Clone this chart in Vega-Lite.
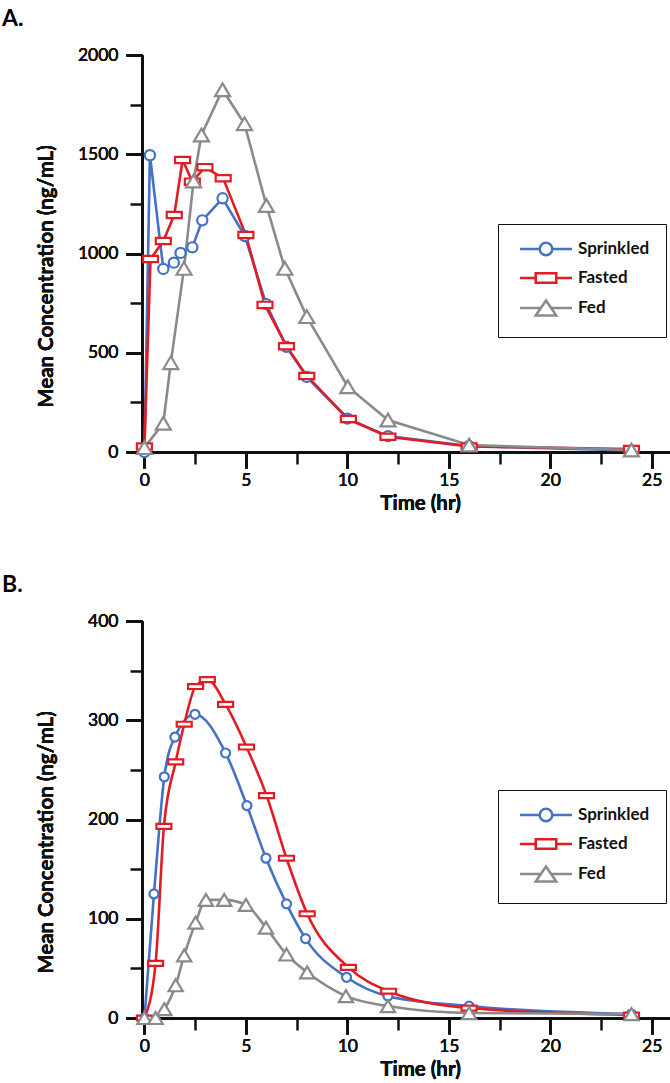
{
  "$schema": "https://vega.github.io/schema/vega-lite/v6.json",
  "padding": {"left": 2, "top": 8, "right": 0, "bottom": 0},
  "background": "white",
  "config": {
    "view": {"stroke": null},
    "font": "Lato",
    "axis": {
      "grid": false,
      "domainColor": "#111111",
      "tickColor": "#111111",
      "domainWidth": 2.5,
      "tickWidth": 2.5,
      "labelColor": "#111111",
      "titleColor": "#111111",
      "labelFont": "Lato",
      "titleFont": "Lato",
      "labelFontSize": 17.5,
      "titleFontSize": 20.5,
      "titleFontWeight": "bold"
    },
    "title": {"font": "Lato", "fontSize": 23, "fontWeight": "bold", "color": "#000000", "anchor": "start", "frame": "group", "baseline": "alphabetic", "offset": 15, "dx": -140}
  },
  "datasets": {
    "a": [
      {"s": "Sprinkled", "t": 0, "v": 0},
      {"s": "Sprinkled", "t": 0.27, "v": 1495},
      {"s": "Sprinkled", "t": 0.93, "v": 922},
      {"s": "Sprinkled", "t": 1.45, "v": 954},
      {"s": "Sprinkled", "t": 1.78, "v": 1003},
      {"s": "Sprinkled", "t": 2.36, "v": 1031},
      {"s": "Sprinkled", "t": 2.85, "v": 1167},
      {"s": "Sprinkled", "t": 3.85, "v": 1278},
      {"s": "Sprinkled", "t": 4.95, "v": 1088},
      {"s": "Sprinkled", "t": 6, "v": 745},
      {"s": "Sprinkled", "t": 7, "v": 530},
      {"s": "Sprinkled", "t": 8, "v": 378},
      {"s": "Sprinkled", "t": 10, "v": 168},
      {"s": "Sprinkled", "t": 12, "v": 80},
      {"s": "Sprinkled", "t": 16, "v": 30},
      {"s": "Sprinkled", "t": 24, "v": 8},
      {"s": "Fasted", "t": 0, "v": 28},
      {"s": "Fasted", "t": 0.3, "v": 972},
      {"s": "Fasted", "t": 0.93, "v": 1063},
      {"s": "Fasted", "t": 1.47, "v": 1194},
      {"s": "Fasted", "t": 1.88, "v": 1471},
      {"s": "Fasted", "t": 2.36, "v": 1362},
      {"s": "Fasted", "t": 2.98, "v": 1435},
      {"s": "Fasted", "t": 3.88, "v": 1379},
      {"s": "Fasted", "t": 5, "v": 1093},
      {"s": "Fasted", "t": 5.94, "v": 741},
      {"s": "Fasted", "t": 7, "v": 533},
      {"s": "Fasted", "t": 8, "v": 383},
      {"s": "Fasted", "t": 10.05, "v": 166},
      {"s": "Fasted", "t": 12, "v": 77},
      {"s": "Fasted", "t": 16, "v": 28},
      {"s": "Fasted", "t": 24, "v": 15},
      {"s": "Fed", "t": 0, "v": 22},
      {"s": "Fed", "t": 0.93, "v": 145},
      {"s": "Fed", "t": 1.3, "v": 450},
      {"s": "Fed", "t": 1.95, "v": 925},
      {"s": "Fed", "t": 2.42, "v": 1365},
      {"s": "Fed", "t": 2.81, "v": 1597},
      {"s": "Fed", "t": 3.85, "v": 1825},
      {"s": "Fed", "t": 4.93, "v": 1654},
      {"s": "Fed", "t": 6.01, "v": 1242},
      {"s": "Fed", "t": 6.92, "v": 925},
      {"s": "Fed", "t": 8, "v": 682},
      {"s": "Fed", "t": 10.02, "v": 329},
      {"s": "Fed", "t": 12, "v": 161},
      {"s": "Fed", "t": 16, "v": 35},
      {"s": "Fed", "t": 24, "v": 10}
    ],
    "b": [
      {"s": "Sprinkled", "t": 0, "v": 0},
      {"s": "Sprinkled", "t": 0.47, "v": 125},
      {"s": "Sprinkled", "t": 0.98, "v": 243},
      {"s": "Sprinkled", "t": 1.5, "v": 283},
      {"s": "Sprinkled", "t": 2.49, "v": 306},
      {"s": "Sprinkled", "t": 4, "v": 267},
      {"s": "Sprinkled", "t": 5.05, "v": 214},
      {"s": "Sprinkled", "t": 5.99, "v": 161},
      {"s": "Sprinkled", "t": 7, "v": 115},
      {"s": "Sprinkled", "t": 7.94, "v": 80},
      {"s": "Sprinkled", "t": 9.96, "v": 41},
      {"s": "Sprinkled", "t": 12, "v": 22},
      {"s": "Sprinkled", "t": 16, "v": 12},
      {"s": "Sprinkled", "t": 24, "v": 4},
      {"s": "Fasted", "t": 0, "v": 0},
      {"s": "Fasted", "t": 0.55, "v": 55},
      {"s": "Fasted", "t": 0.96, "v": 193},
      {"s": "Fasted", "t": 1.54, "v": 258},
      {"s": "Fasted", "t": 1.96, "v": 296},
      {"s": "Fasted", "t": 2.52, "v": 334},
      {"s": "Fasted", "t": 3.1, "v": 341},
      {"s": "Fasted", "t": 4, "v": 316},
      {"s": "Fasted", "t": 5.03, "v": 273},
      {"s": "Fasted", "t": 6.02, "v": 224},
      {"s": "Fasted", "t": 7, "v": 161},
      {"s": "Fasted", "t": 8.02, "v": 105},
      {"s": "Fasted", "t": 10.05, "v": 51},
      {"s": "Fasted", "t": 12.03, "v": 27},
      {"s": "Fasted", "t": 16, "v": 10},
      {"s": "Fasted", "t": 24, "v": 3},
      {"s": "Fed", "t": 0, "v": 0},
      {"s": "Fed", "t": 0.55, "v": 0},
      {"s": "Fed", "t": 0.98, "v": 9},
      {"s": "Fed", "t": 1.54, "v": 33},
      {"s": "Fed", "t": 1.96, "v": 63},
      {"s": "Fed", "t": 2.52, "v": 96},
      {"s": "Fed", "t": 3.03, "v": 119},
      {"s": "Fed", "t": 3.93, "v": 119},
      {"s": "Fed", "t": 5, "v": 114},
      {"s": "Fed", "t": 5.99, "v": 91},
      {"s": "Fed", "t": 7, "v": 64},
      {"s": "Fed", "t": 8.02, "v": 46},
      {"s": "Fed", "t": 9.93, "v": 22},
      {"s": "Fed", "t": 12, "v": 12},
      {"s": "Fed", "t": 16, "v": 5},
      {"s": "Fed", "t": 24, "v": 4}
    ]
  },
  "spacing": 60,
  "resolve": {
    "scale": {"x": "independent", "y": "independent", "color": "independent", "shape": "independent"},
    "axis": {"x": "independent", "y": "independent"},
    "legend": {"color": "independent", "shape": "independent"}
  },
  "vconcat": [
    {
      "title": {"text": "A."},
      "width": 528,
      "height": 397,
      "data": {"name": "a"},
      "encoding": {
        "x": {"field": "t", "type": "quantitative", "scale": {"domain": [-0.12, 25.9], "nice": false, "zero": false},
          "axis": {"orient": "bottom", "values": [0, 5, 10, 15, 20, 25], "tickSize": 16, "labelPadding": 3, "title": "Time (hr)", "titleX": 278, "titleY": 51, "titleBaseline": "middle", "titleAlign": "center"}},
        "y": {"field": "v", "type": "quantitative", "scale": {"domain": [0, 2000], "nice": false},
          "axis": {"orient": "left", "values": [0, 500, 1000, 1500, 2000], "format": "d", "tickSize": 16, "labelPadding": 8, "title": "Mean Concentration (ng/mL)", "titleX": -96, "titleY": 221, "titleAngle": -90, "titleBaseline": "middle", "titleAlign": "center"}},
        "color": {"field": "s", "type": "nominal", "scale": {"domain": ["Sprinkled", "Fasted", "Fed"], "range": ["#4472c4", "#e31b23", "#8a8a8a"]},
          "legend": {
            "title": null, "orient": "none", "legendX": 356, "legendY": 169,
            "strokeColor": "#111111", "padding": 16, "rowPadding": 7,
            "symbolSize": 225, "symbolStrokeWidth": 2.5, "symbolFillColor": "white", "symbolOpacity": 1, "symbolOffset": 23,
            "labelOffset": 23, "labelFont": "Lato", "labelFontSize": 17, "labelFontWeight": "bold", "labelColor": "#111111"
          }}
      },
      "layer": [
        {"mark": {"type": "line", "strokeWidth": 2.6}},
        {
          "transform": [{"filter": "datum.s === 'Sprinkled'"}],
          "mark": {"type": "point", "shape": "M0.68,0A0.68,0.68 0 1,1 -0.68,0A0.68,0.68 0 1,1 0.68,0Z", "filled": false, "fill": "white", "fillOpacity": 1, "opacity": 1, "strokeWidth": 2.2, "size": 225},
          "encoding": {
            "x": {"field": "t", "type": "quantitative", "scale": {"domain": [-0.12, 25.9], "nice": false, "zero": false},
              "axis": {"orient": "bottom", "values": [2.5, 7.5, 12.5, 17.5, 22.5], "tickSize": 12, "labels": false, "domain": false, "title": null}},
            "y": {"field": "v", "type": "quantitative", "scale": {"domain": [0, 2000], "nice": false},
              "axis": {"orient": "left", "values": [250, 750, 1250, 1750], "tickSize": 12, "labels": false, "domain": false, "title": null}}
          }
        },
        {
          "transform": [{"filter": "datum.s === 'Fasted'"}],
          "mark": {"type": "point", "shape": "M-1,-0.42H1V0.42H-1Z", "filled": false, "fill": "white", "fillOpacity": 1, "opacity": 1, "strokeWidth": 2.2, "size": 225}
        },
        {
          "transform": [{"filter": "datum.s === 'Fed'"}],
          "mark": {"type": "point", "shape": "M0,-0.85L1,0.85H-1Z", "filled": false, "fill": "white", "fillOpacity": 1, "opacity": 1, "strokeWidth": 2.2, "size": 225}
        },
        {
          "transform": [{"filter": "datum.v < -1"}],
          "mark": {"type": "point", "filled": false, "fill": "white", "opacity": 1, "strokeWidth": 2.5},
          "encoding": {
            "shape": {"field": "s", "type": "nominal", "legend": null,
              "scale": {"domain": ["Sprinkled", "Fasted", "Fed"], "range": ["M-3.47,0H-0.84M0.84,0H3.47M0.84,0A0.84,0.84 0 1,1 -0.84,0A0.84,0.84 0 1,1 0.84,0Z", "M-3.47,0H-1.37M1.37,0H3.47M-1.37,-0.63H1.37V0.63H-1.37Z", "M-3.47,0H-0.69M0.69,0H3.47M0,-1L1.37,1H-1.37Z"]}}
          }
        }
      ],
      "resolve": {"axis": {"x": "independent", "y": "independent"}}
    },
    {
      "title": {"text": "B."},
      "width": 528,
      "height": 397,
      "data": {"name": "b"},
      "encoding": {
        "x": {"field": "t", "type": "quantitative", "scale": {"domain": [-0.12, 25.9], "nice": false, "zero": false},
          "axis": {"orient": "bottom", "values": [0, 5, 10, 15, 20, 25], "tickSize": 16, "labelPadding": 3, "title": "Time (hr)", "titleX": 278, "titleY": 51, "titleBaseline": "middle", "titleAlign": "center"}},
        "y": {"field": "v", "type": "quantitative", "scale": {"domain": [0, 400], "nice": false},
          "axis": {"orient": "left", "values": [0, 100, 200, 300, 400], "format": "d", "tickSize": 16, "labelPadding": 8, "title": "Mean Concentration (ng/mL)", "titleX": -96, "titleY": 221, "titleAngle": -90, "titleBaseline": "middle", "titleAlign": "center"}},
        "color": {"field": "s", "type": "nominal", "scale": {"domain": ["Sprinkled", "Fasted", "Fed"], "range": ["#4472c4", "#e31b23", "#8a8a8a"]},
          "legend": {
            "title": null, "orient": "none", "legendX": 356, "legendY": 169,
            "strokeColor": "#111111", "padding": 16, "rowPadding": 7,
            "symbolSize": 225, "symbolStrokeWidth": 2.5, "symbolFillColor": "white", "symbolOpacity": 1, "symbolOffset": 23,
            "labelOffset": 23, "labelFont": "Lato", "labelFontSize": 17, "labelFontWeight": "bold", "labelColor": "#111111"
          }}
      },
      "layer": [
        {"mark": {"type": "line", "interpolate": "monotone", "strokeWidth": 2.6}},
        {
          "transform": [{"filter": "datum.s === 'Sprinkled'"}],
          "mark": {"type": "point", "shape": "M0.6,0A0.6,0.6 0 1,1 -0.6,0A0.6,0.6 0 1,1 0.6,0Z", "filled": false, "fill": "white", "fillOpacity": 1, "opacity": 1, "strokeWidth": 2.2, "size": 225},
          "encoding": {
            "x": {"field": "t", "type": "quantitative", "scale": {"domain": [-0.12, 25.9], "nice": false, "zero": false},
              "axis": {"orient": "bottom", "values": [2.5, 7.5, 12.5, 17.5, 22.5], "tickSize": 12, "labels": false, "domain": false, "title": null}},
            "y": {"field": "v", "type": "quantitative", "scale": {"domain": [0, 400], "nice": false},
              "axis": {"orient": "left", "values": [50, 150, 250, 350], "tickSize": 12, "labels": false, "domain": false, "title": null}}
          }
        },
        {
          "transform": [{"filter": "datum.s === 'Fasted'"}],
          "mark": {"type": "point", "shape": "M-1,-0.33H1V0.33H-1Z", "filled": false, "fill": "white", "fillOpacity": 1, "opacity": 1, "strokeWidth": 2.2, "size": 225}
        },
        {
          "transform": [{"filter": "datum.s === 'Fed'"}],
          "mark": {"type": "point", "shape": "M0,-0.8L0.95,0.8H-0.95Z", "filled": false, "fill": "white", "fillOpacity": 1, "opacity": 1, "strokeWidth": 2.2, "size": 225}
        },
        {
          "transform": [{"filter": "datum.v < -1"}],
          "mark": {"type": "point", "filled": false, "fill": "white", "opacity": 1, "strokeWidth": 2.5},
          "encoding": {
            "shape": {"field": "s", "type": "nominal", "legend": null,
              "scale": {"domain": ["Sprinkled", "Fasted", "Fed"], "range": ["M-3.47,0H-0.84M0.84,0H3.47M0.84,0A0.84,0.84 0 1,1 -0.84,0A0.84,0.84 0 1,1 0.84,0Z", "M-3.47,0H-1.37M1.37,0H3.47M-1.37,-0.63H1.37V0.63H-1.37Z", "M-3.47,0H-0.69M0.69,0H3.47M0,-1L1.37,1H-1.37Z"]}}
          }
        }
      ],
      "resolve": {"axis": {"x": "independent", "y": "independent"}}
    }
  ]
}
